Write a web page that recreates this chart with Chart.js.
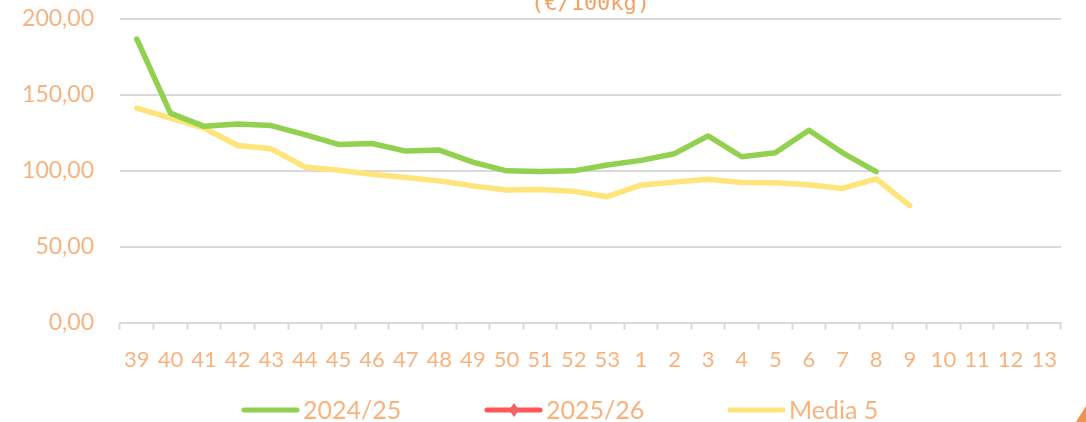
<!DOCTYPE html>
<html>
<head>
<meta charset="utf-8">
<script src="https://cdn.jsdelivr.net/npm/chart.js@4.4.1/dist/chart.umd.min.js"></script>
<style>
  html, body { margin: 0; padding: 0; background: #fff; }
  #wrap { position: relative; width: 1086px; height: 422px; overflow: hidden; background: #fff; }
  #box { position: absolute; left: 0; top: -21px; width: 1086px; height: 450px; }
  #corner { position: absolute; right: 0; bottom: 0; width: 0; height: 0;
            border-left: 10px solid transparent; border-bottom: 16px solid #F0914C; }
</style>
</head>
<body>
<div id="wrap">
  <div id="box"><canvas id="c"></canvas></div>
  <div id="corner"></div>
</div>
<script>
const weeks = ['39','40','41','42','43','44','45','46','47','48','49','50','51','52','53',
               '1','2','3','4','5','6','7','8','9','10','11','12','13'];
const season2425 = [186.7, 137.9, 129.2, 130.7, 129.7, 123.8, 117.3, 117.9, 112.9, 113.6, 105.7, 99.9,
                    99.4, 99.9, 103.8, 106.8, 111.2, 122.9, 109.2, 111.8, 126.6, 111.8, 99.4];
const season2526 = [];
const media5 = [141.2, 134.7, 128.1, 116.6, 114.4, 102.5, 100.3, 97.7, 95.5, 93.3, 90.0, 87.3,
                87.7, 86.4, 82.9, 90.5, 92.5, 94.4, 92.2, 92.0, 90.7, 88.3, 94.6, 77.0];
const yTicks = [0, 50, 100, 150, 200];
const titleText = '(€/100kg)';

const GREEN = '#92D050', RED = '#FF5555', YELLOW = '#FFE47A';
const TXT = '#F9B27D', GRID = '#D9D9D9';

const legendPlugin = {
  id: 'customLegend',
  afterDraw(chart) {
    const ctx = chart.ctx;
    const y = 431;
    const items = [
      { x: 242, color: GREEN, label: '2024/25' },
      { x: 485, color: RED, label: '2025/26', diamond: '#E8666A' },
      { x: 728, color: YELLOW, label: 'Media 5' }
    ];
    ctx.save();
    ctx.font = '25px Lato';
    ctx.textBaseline = 'middle';
    ctx.textAlign = 'left';
    items.forEach(it => {
      ctx.strokeStyle = it.color;
      ctx.lineWidth = 5;
      ctx.lineCap = 'round';
      ctx.beginPath();
      ctx.moveTo(it.x + 2, y);
      ctx.lineTo(it.x + 55, y);
      ctx.stroke();
      if (it.diamond) {
        const cx = it.x + 29;
        ctx.fillStyle = it.diamond;
        ctx.beginPath();
        ctx.moveTo(cx, y - 7);
        ctx.lineTo(cx + 5, y);
        ctx.lineTo(cx, y + 7);
        ctx.lineTo(cx - 5, y);
        ctx.closePath();
        ctx.fill();
      }
      ctx.fillStyle = TXT;
      ctx.fillText(it.label, it.x + 61, y + 1);
    });
    ctx.restore();
  }
};

new Chart(document.getElementById('c'), {
  type: 'line',
  data: {
    labels: weeks,
    datasets: [
      { label: '2024/25', data: season2425, borderColor: GREEN, backgroundColor: GREEN },
      { label: '2025/26', data: season2526, borderColor: RED, backgroundColor: RED, pointStyle: 'rectRot' },
      { label: 'Media 5', data: media5, borderColor: YELLOW, backgroundColor: YELLOW }
    ]
  },
  options: {
    responsive: true,
    maintainAspectRatio: false,
    animation: false,
    layout: { padding: { left: 0, right: 25, top: 0, bottom: 39 } },
    elements: {
      line: { borderWidth: 5.5, tension: 0, borderCapStyle: 'round', borderJoinStyle: 'round' },
      point: { radius: 0, hoverRadius: 0 }
    },
    plugins: {
      legend: { display: false },
      tooltip: { enabled: false },
      title: {
        display: true,
        text: titleText,
        fullSize: false,
        color: '#F5A063',
        font: { family: 'DejaVu Sans Mono', size: 22, weight: 'normal' },
        padding: { top: 4, bottom: 1 }
      }
    },
    scales: {
      x: {
        offset: true,
        grid: { display: true, offset: true, drawOnChartArea: false, drawTicks: true,
                tickLength: 7, tickWidth: 2, tickColor: GRID },
        border: { display: true, color: GRID, width: 2 },
        ticks: { color: TXT, font: { family: 'Lato', size: 22 }, padding: 17,
                 maxRotation: 0, autoSkip: false }
      },
      y: {
        min: 0, max: 200,
        afterFit(s) { s.width = 120; },
        afterBuildTicks(s) { s.ticks = yTicks.map(v => ({ value: v })); },
        grid: { color: GRID, lineWidth: 2, drawTicks: false },
        border: { display: false },
        ticks: { color: TXT, font: { family: 'Lato', size: 23 }, padding: 26,
                 callback: v => v.toFixed(2).replace('.', ',') }
      }
    }
  },
  plugins: [legendPlugin]
});
</script>
</body>
</html>
